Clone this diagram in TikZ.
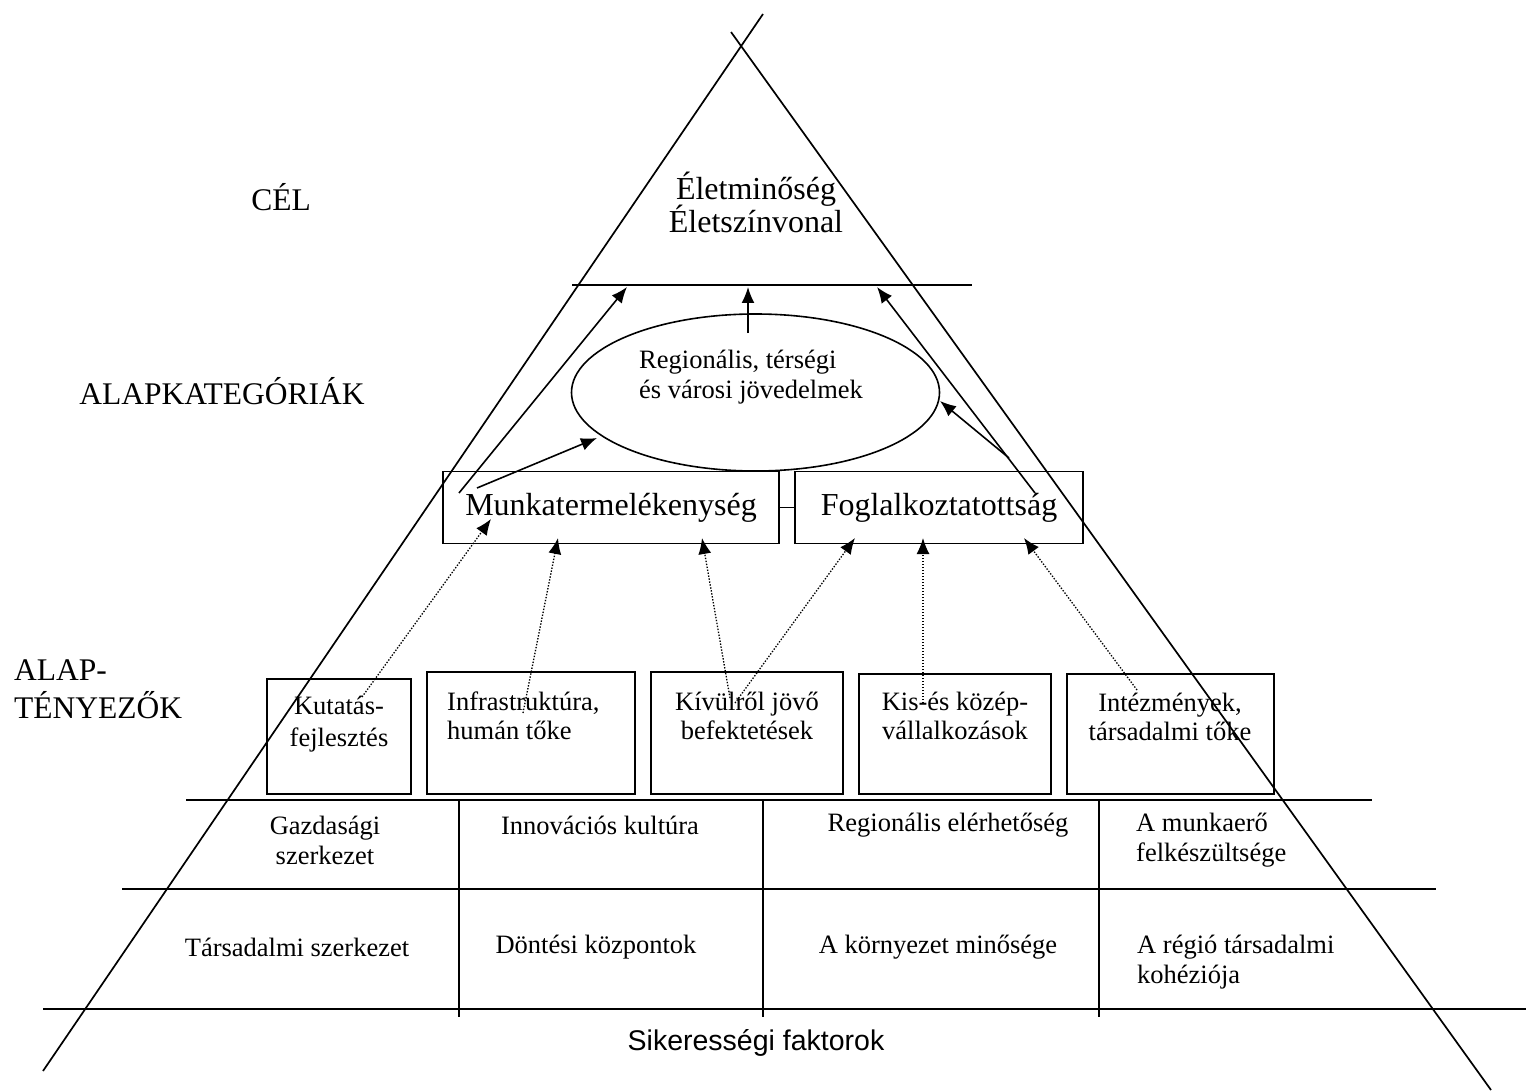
\documentclass[tikz,border=0pt]{standalone}
\usepackage{fontspec}
\setmainfont{Liberation Serif}
\setsansfont{Liberation Sans}
\usetikzlibrary{arrows.meta,shapes.geometric}
\begin{document}
\begin{tikzpicture}[x=1pt,y=-1pt,
  ln/.style={line width=1.7pt},
  tln/.style={line width=1.5pt},
  arr/.style={line width=1.6pt,-{Latex[length=16pt,width=13pt]}},
  darr/.style={line width=1.3pt,dash pattern=on 1.4pt off 1.6pt,-{Latex[length=16pt,width=13pt]}},
  box/.style={draw,line width=1.3pt,inner sep=0pt},
  big/.style={font=\fontsize{31.5}{37}\selectfont,inner sep=0pt},
  bigb/.style={font=\fontsize{32}{36}\selectfont,inner sep=0pt},
  txt/.style={font=\fontsize{26.5}{30}\selectfont,align=center,inner sep=0pt},
  txtl/.style={font=\fontsize{26.5}{30}\selectfont,align=left,inner sep=0pt},
]
\useasboundingbox (0,0) rectangle (1526,1091);

% pyramid sides
\draw[ln] (763,14) -- (43,1071);
\draw[ln] (731,32) -- (1491,1090);

% top separator
\draw[ln] (572,285) -- (972,285);

% goal text
\node[bigb,align=center] (cel) at (756,202) {Életminőség\\[-3pt]Életszínvonal};

% left labels
\node[big] (lcel) at (281,197) {CÉL};
\node[big] (lalapk) at (222,391) {ALAPKATEGÓRIÁK};
\node[big,align=left,anchor=west,font=\fontsize{31.5}{38}\selectfont] (lalapt) at (14,689) {ALAP-\\TÉNYEZŐK};

% ellipse
\node[draw,ellipse,line width=1.6pt,minimum width=368,minimum height=157,inner sep=0pt] (ell) at (755.5,392.5) {};
\node[txtl,anchor=west] (elltxt) at (639,377) {Regionális, térségi\\és városi jövedelmek};

% main boxes
\node[box,minimum width=336,minimum height=72,bigb] (mun) at (611,507.5) {Munkatermelékenység};
\node[box,minimum width=288,minimum height=72,bigb] (fog) at (939,507.5) {Foglalkoztatottság};
\draw[tln] (mun.east) -- (fog.west);

% factor boxes
\node[box,minimum width=144,minimum height=115] (kut) at (339,736.5) {};
\node[box,minimum width=208,minimum height=122] (inf) at (531,733) {};
\node[box,minimum width=192,minimum height=122] (kiv) at (747,733) {};
\node[box,minimum width=192,minimum height=120] (kis) at (955,734) {};
\node[box,minimum width=207,minimum height=120] (int) at (1170.5,734) {};

\node[txt,font=\fontsize{26.5}{32}\selectfont] (kutt) at (339,724) {Kutatás-\\fejlesztés};
\node[txtl,anchor=west,font=\fontsize{26.5}{29}\selectfont] (inft) at (447,716) {Infrastruktúra,\\humán tőke};
\node[txt,font=\fontsize{26.5}{29}\selectfont] (kivt) at (747,716) {Kívülről jövő\\befektetések};
\node[txt,font=\fontsize{26.5}{29}\selectfont] (kist) at (955,716) {Kis-és közép-\\vállalkozások};
\node[txt,font=\fontsize{26.5}{29}\selectfont] (intt) at (1170,717) {Intézmények,\\társadalmi tőke};

% arrows to goal
\coordinate (etop) at (748,333);
\coordinate (t1) at (627,287);
\coordinate (t2) at (748,287);
\coordinate (t3) at (877,287);
\coordinate (mA) at (459,493);
\coordinate (mB) at (477,488);
\coordinate (eL) at (597,438);
\coordinate (fA) at (1035,493);
\coordinate (fB) at (1009,458);
\coordinate (eR) at (940,401);
\draw[arr] (etop) -- (t2);
\draw[arr] (mA) -- (t1);
\draw[arr] (mB) -- (eL);
\draw[arr] (fA) -- (t3);
\draw[arr] (fB) -- (eR);

% dotted arrows from factors
\coordinate (s1) at (362,697);
\coordinate (s2) at (523,713);
\coordinate (s3) at (730,698);
\coordinate (s4) at (735,703);
\coordinate (s5) at (923,703);
\coordinate (s6) at (1137,690);
\coordinate (d1) at (491,519);
\coordinate (d2) at (558,538);
\coordinate (d3) at (702,538);
\coordinate (d4) at (855,538);
\coordinate (d5) at (923,538);
\coordinate (d6) at (1024,538);
\draw[darr] (s1) -- (d1);
\draw[darr] (s2) -- (d2);
\draw[darr] (s3) -- (d3);
\draw[darr] (s4) -- (d4);
\draw[darr] (s5) -- (d5);
\draw[darr] (s6) -- (d6);

% table lines
\draw[ln] (186,800) -- (1372,800);
\draw[tln] (122,889) -- (1436,889);
\draw[ln] (43,1009) -- (1526,1009);
\draw[tln] (459,800) -- (459,1017);
\draw[tln] (763,800) -- (763,1017);
\draw[tln] (1099,799) -- (1099,1017);

% table texts
\node[txt] (gaz) at (325,840) {Gazdasági\\szerkezet};
\node[txt] (inn) at (600,825) {Innovációs kultúra};
\node[txt] (reg) at (948,825) {Regionális elérhetőség};
\node[txtl,anchor=west] (mke) at (1136,840) {A munkaerő\\felkészültsége};
\node[txt] (tsz) at (297,947) {Társadalmi szerkezet};
\node[txt] (don) at (596,947) {Döntési központok};
\node[txt] (kor) at (938,947) {A környezet minősége};
\node[txtl,anchor=west] (rtk) at (1137,962) {A régió társadalmi\\kohéziója};

\node[font=\sffamily\fontsize{28.5}{32}\selectfont,inner sep=0pt] (sik) at (756,1043) {Sikerességi faktorok};
\end{tikzpicture}
\end{document}
